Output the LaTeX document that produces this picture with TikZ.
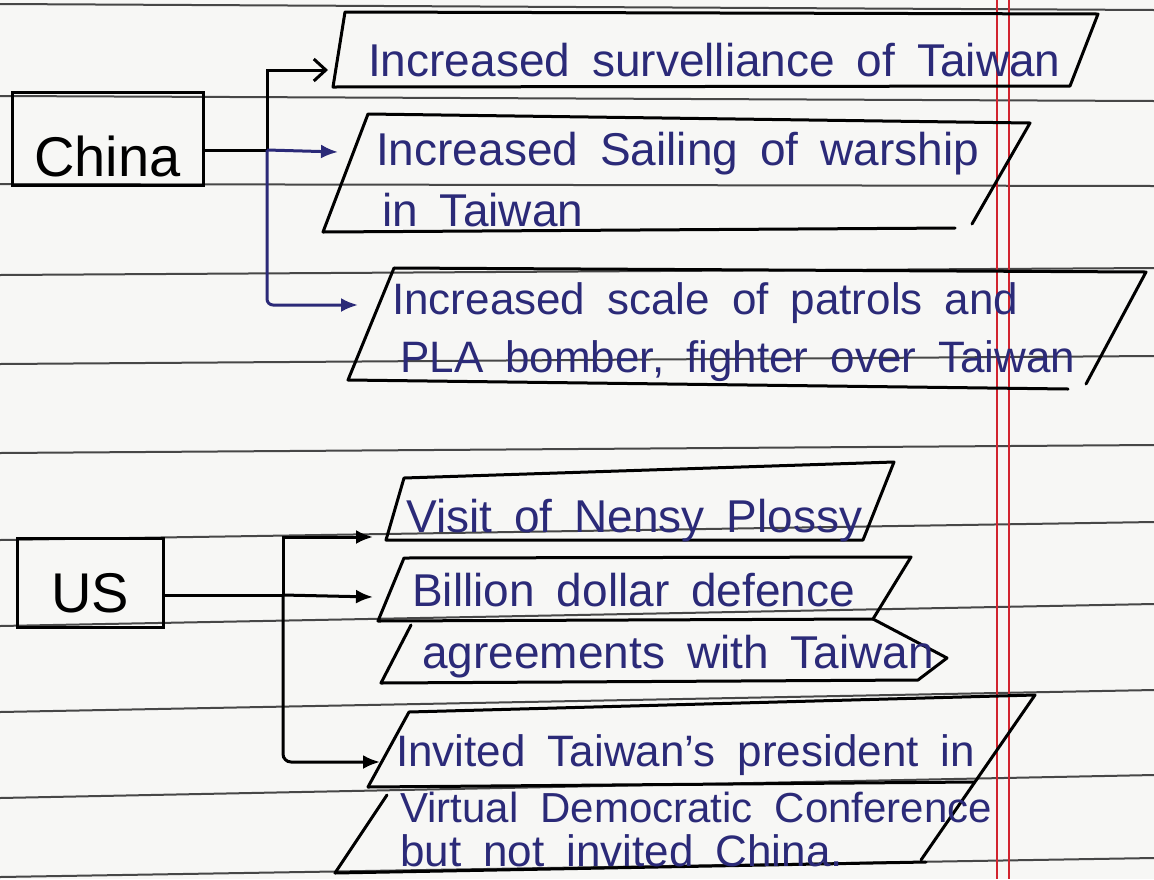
\documentclass[tikz,border=0pt]{standalone}
\usepackage{fontspec}
\setmainfont{Liberation Sans}
\usetikzlibrary{arrows.meta}

\definecolor{ink}{HTML}{2B2A78}
\definecolor{paper}{HTML}{F7F7F5}
\definecolor{rulegray}{HTML}{474747}
\definecolor{marginred}{HTML}{D2232E}
\newcommand\widegaps{\spaceskip=22pt plus 4pt\relax}

\begin{document}
\begin{tikzpicture}[x=1pt, y=-1pt, >={Latex[length=17pt,width=14pt]},
  box/.style={draw, line width=3pt, inner sep=0pt, font=\fontsize{56}{60}\selectfont},
  card/.style={line width=3pt, line join=round, line cap=round},
  ruled/.style={rulegray, line width=2pt},
  link/.style={line width=3pt},
  note/.style={ink, font=\fontsize{46}{55}\selectfont, anchor=base west, inner sep=0pt,
    execute at begin node=\widegaps},
  hand/.style={font=\fontsize{#1}{#1}\selectfont}]
  \useasboundingbox (0,0) rectangle (1154,879);
  \fill[paper] (0,0) rectangle (1154,879);

  % ruled paper
  \draw[ruled] (0,4) -- (1154,10);
  \draw[ruled] (0,96) -- (1154,101);
  \draw[ruled] (0,184) -- (1154,186);
  \draw[ruled] (0,275) -- (1154,268);
  \draw[ruled] (0,364) -- (1154,356);
  \draw[ruled] (0,453) -- (1154,445);
  \draw[ruled] (0,540) -- (1154,522);
  \draw[ruled] (0,626) -- (1154,604);
  \draw[ruled] (0,712) -- (1154,690);
  \draw[ruled] (0,798) -- (1154,775);
  \draw[ruled] (0,877) -- (1154,858);
  % margin
  \draw[marginred, line width=2pt] (997,0) -- (997,879);
  \draw[marginred, line width=2pt] (1009,0) -- (1009,879);

  % China
  \node[box, minimum width=191pt, minimum height=93pt, text height=76pt] (china) at (107.5,138.5) {China};
  \coordinate (cfork) at (267,150);
  \coordinate (survin) at (328,70);
  \coordinate (sailin) at (338,152);
  \coordinate (patrin) at (358,305);
  \draw[link] (china.east |- cfork) -- (cfork);
  \draw[link, -{Straight Barb[length=12pt,width=22pt]}] (cfork) |- (survin);
  \draw[link, ink, ->] (cfork) -- (sailin);
  \draw[link, ink, ->, rounded corners=6pt] (cfork) |- (patrin);

  \draw[card] (345,12) -- (1098,14) -- (1070,86) -- (333,87) -- cycle;
  \node[note] (surv) at (368,76) {Increased survelliance of Taiwan};

  \draw[card] (972,224) -- (1030,123) -- (368,114) -- (323,232) -- (955,228);
  \node[note] (saila) at (376,165) {Increased Sailing of warship};
  \node[note] (sailb) at (382,226) {in Taiwan};

  \draw[card] (394,268) -- (1146,272) -- (1086,384);
  \draw[card] (1068,389) -- (348,380) -- (394,268);
  \node[note, hand=44] (patra) at (392,314) {Increased scale of patrols and};
  \node[note, hand=44] (patrb) at (400,372) {PLA bomber, fighter over Taiwan};

  % US
  \node[box, minimum width=146pt, minimum height=89pt, text height=61pt] (us) at (90,582.5) {US};
  \coordinate (ufork) at (283,595);
  \coordinate (visitin) at (373,537);
  \coordinate (billin) at (373,597);
  \coordinate (invin) at (380,762);
  \draw[link] (us.east |- ufork) -- (ufork);
  \draw[link, ->] (ufork) -- (billin);
  \draw[link, ->] (ufork) |- (visitin);
  \draw[link, ->, rounded corners=8pt] (ufork) |- (invin);

  \draw[card] (404,478) -- (894,462) -- (863,540) -- (386,540) -- cycle;
  \node[note] (visit) at (406,532) {Visit of Nensy Plossy};

  \draw[card] (404,558) -- (911,557) -- (873,619) -- (378,621) -- cycle;
  \draw[card] (411,625) -- (381,683) -- (918,680) -- (947,658) -- (873,619);
  \node[note] (billa) at (412,606) {Billion dollar defence};
  \node[note] (billb) at (422,668) {agreements with Taiwan};

  \draw[card] (368,787) -- (409,712) -- (1035,695) -- (921,860);
  \draw[card] (368,787) -- (974,782);
  \draw[card] (387,795) -- (335,873) -- (926,862);
  \node[note, hand=44] (inva) at (396,766) {Invited Taiwan's president in};
  \node[note, hand=42] (invb) at (400,822) {Virtual Democratic Conference};
  \node[note, hand=44] (invc) at (400,866) {but not invited China.};
\end{tikzpicture}
\end{document}
